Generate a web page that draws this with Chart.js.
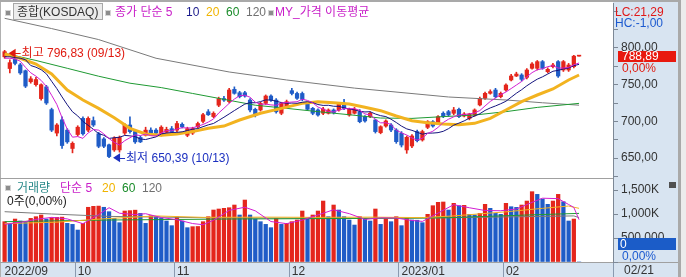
<!DOCTYPE html>
<html lang="ko">
<head>
<meta charset="utf-8">
<title>종합(KOSDAQ)</title>
<script src="https://cdn.jsdelivr.net/npm/chart.js@4.4.1/dist/chart.umd.min.js"></script>
<style>
  html, body { margin: 0; padding: 0; background: #fff; }
  #board { position: relative; width: 686px; height: 277px; overflow: hidden; background: #fff;
    font-family: "Liberation Sans", "Noto Sans CJK KR", sans-serif; font-size: 12px; }
  #board div, #board span, #board canvas { position: absolute; }
  .txt { white-space: nowrap; line-height: 14px; }
  .icon { width: 4px; height: 4px; background: #8c8c8c; border: 1px solid #d4d4d4; }
</style>
</head>
<body>
<div id="board">
  <div style="left:0;top:0;width:686px;height:2px;background:#a9a9a9"></div>
  <div style="left:0;top:2px;width:1px;height:275px;background:#b0b0b0"></div>
  <div style="left:613px;top:2px;width:65px;height:275px;background:#d8e4f1"></div>
  <div style="left:678px;top:0;width:3px;height:277px;background:#a9a9a9"></div>
  <div style="left:681px;top:0;width:5px;height:277px;background:#ececec"></div>
  <div style="left:1px;top:262px;width:612px;height:15px;background:#d8e4f1"></div>
  <div style="left:0;top:262px;width:678px;height:1px;background:#a0a0a0"></div>
  <div style="left:613px;top:262px;width:1px;height:15px;background:#8a9ab0"></div>
  <div style="left:0;top:178px;width:613px;height:1px;background:#a0a0a0"></div>

  <canvas id="priceChart" width="674" height="175" style="left:2px;top:3px"></canvas>
  <canvas id="volumeChart" width="674" height="99" style="left:2px;top:178px"></canvas>

  <div class="icon" style="left:5px;top:10px"></div>
  <div style="left:13px;top:3px;width:88px;height:15px;background:#ececec;border:1px solid #a8a8a8"></div>
  <span class="txt" style="left:17px;top:5px;color:#333">종합(KOSDAQ)</span>
  <div class="icon" style="left:105px;top:10px"></div>
  <span class="txt" style="left:115px;top:5px;color:#c81ec8">종가 단순 5</span>
  <span class="txt" style="left:186px;top:5px;color:#1a1a8c">10</span>
  <span class="txt" style="left:206px;top:5px;color:#f0b400">20</span>
  <span class="txt" style="left:226px;top:5px;color:#1a8c2a">60</span>
  <span class="txt" style="left:246px;top:5px;color:#707070">120</span>
  <div class="icon" style="left:268px;top:10px"></div>
  <span class="txt" style="left:275px;top:5px;color:#c81ec8">MY_가격 이동평균</span>
  <span class="txt" style="left:615px;top:5px;color:#e01818">LC:21,29</span>
  <span class="txt" style="left:615px;top:16px;color:#1c5ad0">HC:-1,00</span>

  <div class="icon" style="left:5px;top:185px"></div>
  <span class="txt" style="left:17px;top:181px;color:#2a8a8a">거래량</span>
  <span class="txt" style="left:60px;top:181px;color:#c81ec8">단순 5</span>
  <span class="txt" style="left:102px;top:181px;color:#f0b400">20</span>
  <span class="txt" style="left:122px;top:181px;color:#1a8c2a">60</span>
  <span class="txt" style="left:142px;top:181px;color:#707070">120</span>
  <span class="txt" style="left:7px;top:194px;color:#222">0주(0,00%)</span>
  <div style="left:669px;top:182px;width:7px;height:6px;background:#505050"></div>
  <span class="txt" id="lastDate" style="left:624px;top:263px;color:#333"></span>
</div>

<script>
const dates = [
  "2022/09/13", "2022/09/14", "2022/09/15", "2022/09/16", "2022/09/19", "2022/09/20", "2022/09/21",
  "2022/09/22", "2022/09/23", "2022/09/26", "2022/09/27", "2022/09/28", "2022/09/29", "2022/09/30",
  "2022/10/04", "2022/10/05", "2022/10/06", "2022/10/07", "2022/10/11", "2022/10/12", "2022/10/13",
  "2022/10/14", "2022/10/17", "2022/10/18", "2022/10/19", "2022/10/20", "2022/10/21", "2022/10/24",
  "2022/10/25", "2022/10/26", "2022/10/27", "2022/10/28", "2022/10/31",
  "2022/11/01", "2022/11/02", "2022/11/03", "2022/11/04", "2022/11/07", "2022/11/08", "2022/11/09",
  "2022/11/10", "2022/11/11", "2022/11/14", "2022/11/15", "2022/11/16", "2022/11/17", "2022/11/18",
  "2022/11/21", "2022/11/22", "2022/11/23", "2022/11/24", "2022/11/25", "2022/11/28", "2022/11/29",
  "2022/11/30",
  "2022/12/01", "2022/12/02", "2022/12/05", "2022/12/06", "2022/12/07", "2022/12/08", "2022/12/09",
  "2022/12/12", "2022/12/13", "2022/12/14", "2022/12/15", "2022/12/16", "2022/12/19", "2022/12/20",
  "2022/12/21", "2022/12/22", "2022/12/23", "2022/12/26", "2022/12/27", "2022/12/28", "2022/12/29",
  "2023/01/02", "2023/01/03", "2023/01/04", "2023/01/05", "2023/01/06", "2023/01/09", "2023/01/10",
  "2023/01/11", "2023/01/12", "2023/01/13", "2023/01/16", "2023/01/17", "2023/01/18", "2023/01/19",
  "2023/01/20", "2023/01/25", "2023/01/26", "2023/01/27", "2023/01/30", "2023/01/31",
  "2023/02/01", "2023/02/02", "2023/02/03", "2023/02/06", "2023/02/07", "2023/02/08", "2023/02/09",
  "2023/02/10", "2023/02/13", "2023/02/14", "2023/02/15", "2023/02/16", "2023/02/17", "2023/02/20",
  "2023/02/21"
];

const opens = [
  788, 772, 785, 777, 769, 754, 750, 731, 747, 716,
  684, 702, 688, 663, 682, 704, 688, 701, 683, 676,
  668, 661, 661, 684, 695, 686, 678, 681, 688, 688,
  681, 685, 690, 688, 696, 681, 684, 692.5, 700, 713,
  706.5, 722, 731, 727, 743.6, 739, 739, 729, 716.4, 715.5,
  724.5, 734.5, 729, 711, 720, 741.8, 738, 738, 724.5, 717.7,
  715.5, 711, 711, 715.5, 715.5, 724.5, 708.6, 711, 713.2, 706.4,
  706.4, 701.8, 684.6, 693.6, 695, 688.2, 683.6, 661, 666.4, 686,
  674.6, 691.8, 699.5, 697.3, 711, 713.2, 711, 716.4, 707.3, 704,
  708.6, 722.3, 731.4, 738.2, 742.7, 733.6, 742.7, 756.4, 761.8, 763.2,
  760, 772.3, 772.3, 781.4, 767.7, 774.5, 781.4, 770, 770, 774.5,
  788.89
];
const highs = [
  796.83, 784, 787, 779, 770, 761, 760, 751, 749, 718,
  697, 706, 690, 672, 694, 706, 706, 706, 685, 678,
  669, 679, 680, 697, 706, 688, 680, 692, 691, 690,
  694, 692, 693, 700, 698, 692, 692, 699, 711, 716,
  713, 733, 734, 745, 747, 741, 741, 731, 718, 726,
  736, 736, 731, 726, 729, 745, 740, 740, 726, 719,
  717, 719, 717, 717, 726, 730, 718, 719, 716, 708,
  713, 703, 694, 702, 697, 690, 686, 680, 682, 688,
  688, 701, 701, 708, 713, 715, 719, 718, 712, 711,
  717, 733, 740, 743, 745, 740, 751, 764, 767, 765,
  772, 780, 783, 783, 773, 779, 783, 783, 779, 790,
  788.89
];
const lows = [
  786, 766, 777, 764, 746, 752, 748, 729, 723, 686,
  680, 663, 670, 657, 680, 681, 686, 693, 664, 664,
  650.39, 659, 658, 682, 684, 670, 671, 680, 682, 682,
  680, 684, 684, 686, 691, 679, 682, 691, 698, 708,
  705, 720, 727, 725, 737, 732, 733, 713, 706, 714,
  723, 727, 711, 709, 718, 736, 730, 728, 715, 709,
  707, 709, 710, 710, 714, 716, 707, 710, 698, 699,
  705, 684, 683, 692, 686, 670, 665, 656.4, 664, 672,
  673, 690, 692, 696, 705, 707, 709, 705, 706, 702,
  707, 721, 730, 737, 732, 732, 741, 755, 761, 755,
  758, 771, 770, 771, 766, 773, 760, 768, 768, 773,
  788.89
];
const closes = [
  795, 780, 779, 766, 748, 758, 757, 750, 725, 688,
  695, 667, 672, 670, 692, 683, 704, 695, 666, 666,
  652, 677, 678, 695, 686, 672, 672, 688, 684, 684,
  692, 689, 686, 697, 692.5, 690, 690, 697, 709, 709,
  711, 731, 729, 742.7, 738.2, 733.6, 734.5, 715.5, 708.6, 724.5,
  734.5, 729, 713, 724.5, 726.8, 738, 731.4, 730, 716.4, 711,
  708.6, 716.8, 715.5, 711.8, 724.5, 717.7, 716.4, 716.4, 699.5, 700.5,
  711, 686, 692.7, 700.5, 688.2, 672.3, 667.7, 678.2, 680, 673.6,
  686, 699.5, 693.6, 706.4, 706.4, 708.6, 715.5, 706.4, 710, 710,
  715.5, 731.4, 738.2, 740.5, 733.6, 738.2, 749.5, 761.8, 764.5, 757.3,
  770, 778.2, 781.4, 772.3, 770.9, 776.8, 761.8, 781.4, 776.8, 788.89,
  788.89
];
// volume in thousands of shares
const volumes = [
  840, 784, 895, 854, 840, 909, 944, 979, 895, 923,
  930, 935, 805, 784, 666, 805, 1140, 1160, 1165, 1140,
  1048, 909, 819, 1062, 1070, 1080, 1013, 805, 965, 944,
  909, 854, 757, 944, 854, 715, 736, 740, 840, 944,
  1083, 1104, 1118, 1131, 1187, 979, 1291, 979, 895, 840,
  784, 715, 909, 784, 805, 840, 875, 1062, 923, 979,
  1062, 1270, 944, 1187, 1083, 944, 875, 770, 944, 909,
  854, 1104, 784, 909, 840, 944, 757, 909, 875, 870,
  819, 993, 1173, 1243, 1250, 1083, 1222, 1173, 1180, 993,
  979, 1013, 1201, 1118, 1013, 993, 1222, 1152, 1138, 1187,
  1270, 1465, 1409, 1312, 1201, 1270, 1409, 1256, 854, 895,
  0
];

const ma5 = [
  786, 786, 785, 782, 773.6, 766.2, 761.6, 755.8, 747.6, 735.6,
  723, 705, 689.4, 678.4, 679.2, 676.8, 684.2, 688.8, 688, 682.8,
  676.6, 671.2, 667.8, 673.6, 677.6, 681.6, 680.6, 682.6, 680.4, 680,
  684, 687.4, 687, 689.6, 691.3, 690.9, 691.1, 693.3, 695.7, 699,
  703.2, 711.4, 717.8, 724.5, 730.4, 734.9, 735.6, 732.9, 726.1, 723.3,
  723.5, 722.4, 721.9, 725.1, 725.6, 726.3, 726.7, 730.1, 728.5, 725.4,
  719.5, 716.6, 713.7, 712.7, 715.4, 717.3, 717.2, 717.4, 714.9, 710.1,
  708.8, 702.7, 697.9, 698.1, 695.7, 687.9, 684.3, 681.4, 677.3, 674.4,
  677.1, 683.5, 686.5, 691.8, 698.4, 702.9, 706.1, 708.7, 709.4, 710.1,
  711.5, 714.7, 721, 727.1, 731.8, 736.4, 740, 744.7, 749.5, 754.3,
  760.6, 766.4, 770.3, 771.8, 774.6, 775.9, 772.6, 772.6, 773.5, 777.1,
  779.6
];
const ma10 = [
  788, 788, 787, 786, 784, 776.1, 773.8, 770.4, 764.8, 754.6,
  744.6, 733.3, 722.6, 713, 707.4, 699.9, 694.6, 689.1, 683.2, 681,
  676.7, 677.7, 678.3, 680.8, 680.2, 679.1, 675.9, 675.2, 677, 678.8,
  682.8, 684, 684.8, 685, 685.7, 687.5, 689.3, 690.2, 692.7, 695.2,
  697.1, 701.3, 705.6, 710.1, 714.7, 719.1, 723.5, 725.4, 725.3, 726.9,
  729.2, 729, 727.4, 725.6, 724.5, 724.9, 724.6, 726, 726.8, 725.5,
  722.9, 721.7, 721.9, 720.6, 720.4, 718.4, 716.9, 715.6, 713.8, 712.8,
  713.1, 710, 707.7, 706.5, 702.9, 698.4, 693.5, 689.7, 687.7, 685.1,
  682.5, 683.9, 684, 684.6, 686.4, 690, 694.8, 697.6, 700.6, 704.3,
  707.2, 710.4, 714.9, 718.3, 721, 724, 727.4, 732.9, 738.3, 743.1,
  748.5, 753.2, 757.5, 760.7, 764.5, 768.3, 769.5, 771.5, 772.7, 775.9,
  777.7
];
// smoother averages read at [candle index, value]
const ma20Pts = [
  [0, 791.8], [3, 786], [6, 778.2], [9, 764.5], [12, 742.7], [15, 729], [18, 717.7], [21, 705],
  [24, 690.5], [27, 682.7], [30, 681], [33, 682.7], [36, 686], [39, 690.5], [42, 693.6], [45, 701.8],
  [49, 711], [53, 717.7], [57, 724.5], [60, 726.8], [63, 725.4], [66, 723.6], [69, 719.1], [72, 714.5],
  [75, 707.3], [78, 700.9], [81, 698.2], [84, 696.4], [87, 695.5], [90, 697.3], [93, 704.1], [96, 715.5],
  [99, 726.8], [102, 735.9], [105, 744.1], [108, 756.4], [110, 763.2]
];
const ma60Pts = [
  [0, 792.7], [6, 783], [12, 772.3], [18, 761.5], [24, 752], [30, 746], [36, 738], [42, 730],
  [48, 722], [54, 717.7], [60, 713.2], [66, 709], [72, 704.5], [78, 704], [84, 706.4], [90, 708.6],
  [96, 713.2], [102, 719], [110, 724.5]
];
const ma120Pts = [
  [0, 840.5], [9, 826.5], [18, 811.5], [29, 786], [43, 767.3], [54, 756.4], [67, 745.3],
  [85, 733.2], [96, 729.1], [103, 725.3], [110, 722]
];
const volMa5Pts = [
  [0, 784], [4, 843], [6, 888], [9, 930], [12, 898], [15, 799], [18, 987], [20, 1131], [22, 1016],
  [25, 988], [27, 1006], [30, 927], [33, 882], [36, 801], [38, 777], [40, 869], [43, 1076], [46, 1141],
  [48, 1066], [51, 843], [54, 799], [57, 873], [60, 980], [63, 1088], [66, 1007], [69, 888], [72, 919],
  [75, 916], [78, 865], [80, 846], [83, 1020], [86, 1194], [89, 1130], [92, 1073], [95, 1068],
  [98, 1104], [101, 1242], [103, 1329], [106, 1320], [108, 1198], [109, 1137], [110, 883]
];
const volMa20Pts = [
  [0, 800], [10, 830], [19, 900], [29, 960], [38, 930], [50, 935], [60, 930], [70, 935],
  [80, 925], [86, 960], [96, 1045], [103, 1118], [108, 1166], [110, 1118]
];
const volMa60Pts = [[0, 840], [20, 875], [43, 895], [70, 909], [85, 923], [100, 979], [110, 1013]];
const volMa120Pts = [
  [0, 1048], [9, 1000], [20, 950], [40, 920], [60, 910], [80, 915], [100, 945], [109, 960], [110, 925]
];

const priceTicks = [650, 700, 750, 800];
const volTicks = [500, 1000, 1500];
const volTickLabels = ["500,000", "1,000K", "1,500K"];
const highMark = { index: 0, value: 796.83, text: "최고 796,83 (09/13)" };
const lowMark = { index: 20, value: 650.39, text: "최저 650,39 (10/13)" };
const lastChange = "0,00%";

const UP = "#e4261c";
const DOWN = "#1f5cc7";
const FONT = '"Liberation Sans", "Noto Sans CJK KR", sans-serif';
const EMPTY_SLOTS = 6;

const N = dates.length;
const labels = dates.concat(Array.from({ length: EMPTY_SLOTS }, (_, k) => " ".repeat(k + 1)));
const candleColors = opens.map((o, i) => (closes[i] >= o ? UP : DOWN));
const comma = (v) => v.toFixed(2).replace(".", ",");
const toPoints = (pts) => pts.map(([k, v]) => ({ x: dates[k], y: v }));

function isMonthStart(i) {
  return i > 0 && i < N && dates[i].slice(5, 7) !== dates[i - 1].slice(5, 7);
}
function monthLabel(i) {
  if (i === 0 || (isMonthStart(i) && dates[i].slice(5, 7) === "01")) return dates[i].slice(0, 7);
  if (isMonthStart(i)) return dates[i].slice(5, 7);
  return "";
}

// keep the plot area flush with the canvas edges
function noLabelPadding(scale) {
  scale.paddingTop = 0;
  scale.paddingBottom = 0;
  scale.paddingLeft = 0;
  scale.paddingRight = 0;
}

function lineSet(data, color, width, order) {
  return {
    type: "line", data, borderColor: color, borderWidth: width, pointRadius: 0,
    spanGaps: true, tension: 0, order
  };
}

function rightAxis(min, max, minorStep, labelFor) {
  return {
    position: "right", min, max,
    afterBuildTicks: (scale) => {
      const ticks = [];
      for (let v = Math.ceil(min / minorStep) * minorStep; v <= max; v += minorStep) ticks.push({ value: v });
      scale.ticks = ticks;
    },
    afterFit: (scale) => {
      scale.width = 63;
      noLabelPadding(scale);
    },
    border: { display: true, color: "#7d8896" },
    grid: { drawOnChartArea: false, drawTicks: true, tickLength: 5, tickColor: "#7d8896" },
    ticks: { color: "#333", padding: 3, font: { family: FONT, size: 12 }, callback: labelFor }
  };
}

function drawMark(ctx, px, py, text, color) {
  const tip = px + 4;
  ctx.fillStyle = color;
  ctx.strokeStyle = color;
  ctx.lineWidth = 1;
  ctx.beginPath();
  ctx.moveTo(tip + 5, Math.round(py) + 0.5);
  ctx.lineTo(tip + 12, Math.round(py) + 0.5);
  ctx.stroke();
  ctx.beginPath();
  ctx.moveTo(tip, py);
  ctx.lineTo(tip + 7, py - 4.5);
  ctx.lineTo(tip + 7, py + 4.5);
  ctx.closePath();
  ctx.fill();
  ctx.fillText(text, tip + 13, py + 0.5);
}

const priceOverlay = {
  id: "priceOverlay",
  afterDatasetsDraw(chart) {
    const { ctx, scales: { x, y } } = chart;
    ctx.save();
    ctx.font = "12px " + FONT;
    ctx.textBaseline = "middle";
    drawMark(ctx, x.getPixelForValue(highMark.index), y.getPixelForValue(highMark.value) + 3, highMark.text, "#e01a10");
    drawMark(ctx, x.getPixelForValue(lowMark.index), y.getPixelForValue(lowMark.value), lowMark.text, "#1c30c0");
    ctx.restore();
  },
  afterDraw(chart) {
    const { ctx, chartArea, scales: { y } } = chart;
    const last = closes[N - 1];
    const py = Math.round(y.getPixelForValue(last));
    ctx.save();
    ctx.font = "12px " + FONT;
    ctx.textBaseline = "middle";
    ctx.fillStyle = "#e8190f";
    ctx.fillRect(chartArea.right + 5, py - 5, 59, 11);
    ctx.fillStyle = "#fff";
    ctx.fillText(comma(last), chartArea.right + 9, py + 1);
    ctx.fillStyle = "#e01a10";
    ctx.fillText(lastChange, chartArea.right + 9, py + 13);
    ctx.restore();
  }
};

const volumeOverlay = {
  id: "volumeOverlay",
  afterDraw(chart) {
    const { ctx, chartArea, scales: { y } } = chart;
    const py = Math.round(Math.min(y.getPixelForValue(volumes[N - 1]), chartArea.bottom - 18));
    ctx.save();
    ctx.font = "12px " + FONT;
    ctx.textBaseline = "middle";
    ctx.fillStyle = "#1b5cc8";
    ctx.fillRect(chartArea.right + 5, py - 6, 59, 12);
    ctx.fillStyle = "#fff";
    ctx.fillText(String(volumes[N - 1]), chartArea.right + 7, py + 1);
    ctx.fillStyle = "#1c5ad0";
    ctx.fillText(lastChange, chartArea.right + 9, py + 13);
    ctx.restore();
  }
};

const baseOptions = {
  responsive: false,
  animation: false,
  devicePixelRatio: 1,
  events: [],
  layout: { padding: 0, autoPadding: false },
  plugins: { legend: { display: false }, tooltip: { enabled: false } }
};

new Chart(document.getElementById("priceChart"), {
  type: "bar",
  data: {
    labels,
    datasets: [
      lineSet(ma5, "#d21ed2", 1, 1),
      lineSet(ma10, "#14147e", 1, 2),
      lineSet(toPoints(ma20Pts), "#f2b320", 3, 3),
      lineSet(toPoints(ma60Pts), "#1f9a33", 1, 4),
      lineSet(toPoints(ma120Pts), "#7a7a7a", 1, 5),
      {
        data: opens.map((o, i) => [o, closes[i]]),
        backgroundColor: candleColors, barThickness: 3.6, minBarLength: 1, grouped: false, order: 8
      },
      {
        data: lows.map((l, i) => [l, highs[i]]),
        backgroundColor: candleColors, barThickness: 1, grouped: false, order: 9
      }
    ]
  },
  options: {
    ...baseOptions,
    scales: {
      x: { display: false, offset: true },
      y: rightAxis(622.73, 861.36, 12.5, (v) => (priceTicks.includes(v) ? comma(v) : ""))
    }
  },
  plugins: [priceOverlay]
});

new Chart(document.getElementById("volumeChart"), {
  type: "bar",
  data: {
    labels,
    datasets: [
      lineSet(toPoints(volMa5Pts), "#d21ed2", 1, 1),
      lineSet(toPoints(volMa20Pts), "#f2b320", 1, 2),
      lineSet(toPoints(volMa60Pts), "#1f9a33", 1, 3),
      lineSet(toPoints(volMa120Pts), "#7a7a7a", 1, 4),
      {
        data: volumes,
        backgroundColor: (c) => (c.dataIndex === 0 || volumes[c.dataIndex] >= volumes[c.dataIndex - 1] ? UP : DOWN),
        barThickness: 3.6, grouped: false, order: 8
      }
    ]
  },
  options: {
    ...baseOptions,
    scales: {
      x: {
        offset: true,
        border: { display: false },
        grid: {
          offset: true, drawOnChartArea: false, drawTicks: true, tickLength: 15,
          color: (c) => (isMonthStart(c.index) ? "#8a9ab0" : "rgba(0,0,0,0)"),
          tickColor: (c) => (isMonthStart(c.index) ? "#8a9ab0" : "rgba(0,0,0,0)")
        },
        ticks: {
          autoSkip: false, maxRotation: 0, minRotation: 0, align: "start", padding: -13,
          color: "#333", font: { family: FONT, size: 12 },
          callback: (v, i) => monthLabel(i)
        },
        afterFit: (scale) => {
          scale.height = 15;
          noLabelPadding(scale);
        }
      },
      y: rightAxis(0, 1750, 250, (v) => {
        const k = volTicks.indexOf(v);
        return k >= 0 ? volTickLabels[k] : "";
      })
    }
  },
  plugins: [volumeOverlay]
});

document.getElementById("lastDate").textContent = dates[N - 1].slice(5);
</script>
</body>
</html>
